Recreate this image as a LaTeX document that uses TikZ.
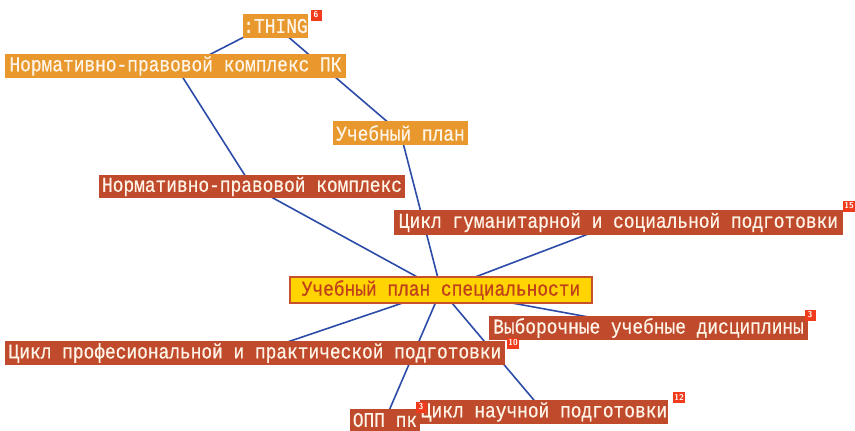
\documentclass[tikz,border=0pt]{standalone}
\usepackage{fontspec}
\newfontfamily\boxfont[FakeStretch=0.85,FakeBold=0.6]{Liberation Mono}
\usetikzlibrary{backgrounds}
\definecolor{orng}{RGB}{232,152,44}
\definecolor{dred}{RGB}{192,74,44}
\definecolor{ylw}{RGB}{255,212,0}
\definecolor{ylwborder}{RGB}{200,80,42}
\definecolor{ylwtext}{RGB}{192,64,28}
\definecolor{cream}{RGB}{255,244,232}
\definecolor{linkblue}{RGB}{44,76,168}
\definecolor{badgered}{RGB}{240,60,28}
\tikzset{
  box/.style={inner sep=0pt, font=\boxfont\fontsize{21}{22}\selectfont, text=cream},
  obox/.style={box, fill=orng},
  rbox/.style={box, fill=dred},
  mainbox/.style={box, fill=ylw, draw=ylwborder, line width=2pt, text=ylwtext},
  link/.style={draw=linkblue, line width=1.6pt},
  badge/.style={fill=badgered, text=white, inner sep=1pt, minimum width=11pt, minimum height=11pt,
    font=\sffamily\bfseries\fontsize{8.5}{8.5}\selectfont}
}
\begin{document}
\begin{tikzpicture}[x=1pt,y=-1pt]
\useasboundingbox (0,0) rectangle (855,431);
% nodes
\node[obox, minimum width=65pt, minimum height=24pt] (thing) at (275.5,26) {:THING};
\node[obox, minimum width=341pt, minimum height=24pt] (npkpk) at (175.5,66) {Нормативно-правовой комплекс ПК};
\node[obox, minimum width=135pt, minimum height=24pt] (up) at (400.5,133) {Учебный план};
\node[rbox, minimum width=306pt, minimum height=23pt] (npk) at (252,186.5) {Нормативно-правовой комплекс};
\node[rbox, minimum width=449pt, minimum height=25pt] (gum) at (618.5,222.5) {Цикл гуманитарной и социальной подготовки};
\node[mainbox, minimum width=302pt, minimum height=26pt] (ups) at (441,290) {Учебный план специальности};
\node[rbox, minimum width=319pt, minimum height=24pt] (vyb) at (648.5,328) {Выборочные учебные дисциплины};
\node[rbox, minimum width=500pt, minimum height=24pt] (prof) at (255,353) {Цикл професиональной и практической подготовки};
\node[rbox, minimum width=70pt, minimum height=22pt] (opp) at (385,420) {ОПП пк};
\node[rbox, minimum width=248pt, minimum height=24pt] (nauch) at (544,412) {Цикл научной подготовки};
% badges
\node[badge] (b1) at (316,15) {6};
\node[badge] (b2) at (849,206) {15};
\node[badge] (b3) at (810,315) {3};
\node[badge] (b4) at (513,343) {10};
\node[badge] (b5) at (421,407) {3};
\node[badge] (b6) at (679,397) {12};
% links
\begin{scope}[on background layer]
\fill[white] (0,0) rectangle (855,431);
\path[link] ([xshift=-10pt]thing.center) -- ([xshift=12pt]npkpk.center);
\path[link] (thing.center) -- (up.center);
\path[link] (npkpk.center) -- (npk.center);
\path[link] (up.center) -- (ups.center);
\path[link] (npk.center) -- (ups.center);
\path[link] (gum.center) -- (ups.center);
\path[link] (ups.center) -- (vyb.center);
\path[link] (ups.center) -- (prof.center);
\path[link] (ups.center) -- (opp.center);
\path[link] (ups.center) -- (nauch.center);
\end{scope}
\end{tikzpicture}
\end{document}
